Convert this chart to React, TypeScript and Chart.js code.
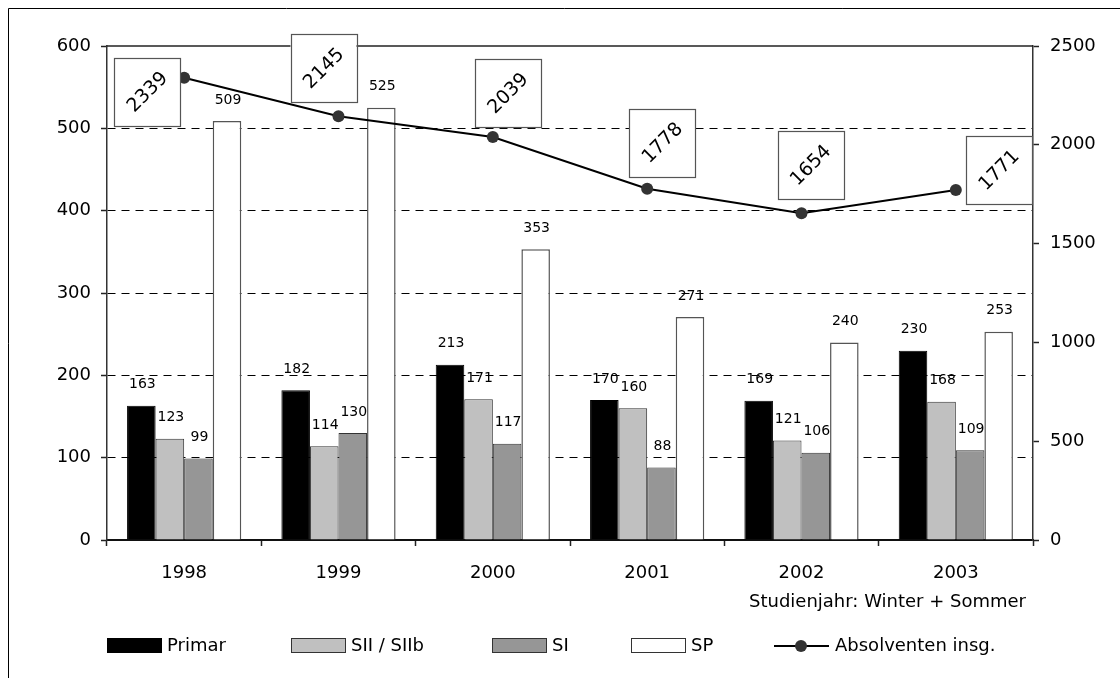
import React, { useEffect, useRef } from "react";
import { Chart, registerables } from "chart.js";

Chart.register(...registerables);

const years = ["1998", "1999", "2000", "2001", "2002", "2003"];
const primar = [163, 182, 213, 170, 169, 230];
const sii = [123, 114, 171, 160, 121, 168];
const si = [99, 130, 117, 88, 106, 109];
const sp = [509, 525, 353, 271, 240, 253];
const absolventen = [2339, 2145, 2039, 1778, 1654, 1771];
const seriesNames = ["Primar", "SII / SIIb", "SI", "SP", "Absolventen insg."];
const xTitle = "Studienjahr: Winter + Sommer";
const leftMax = 600;
const leftStep = 100;
const rightMax = 2500;
const rightStep = 500;

// annotation box placement relative to each line point (layout only)
const boxOffsets: [number, number][] = [
  [-37, 14],
  [-15, -48],
  [15, -44],
  [15, -46],
  [9, -48],
  [43, -20],
];

const FONT = '"DejaVu Sans", sans-serif';

const overlayPlugin = {
  id: "overlay",
  afterDatasetsDraw(chart: any) {
    const ctx = chart.ctx as CanvasRenderingContext2D;
    const area = chart.chartArea;
    ctx.save();
    // top border of plot area
    ctx.strokeStyle = "#222";
    ctx.lineWidth = 1.5;
    ctx.beginPath();
    ctx.moveTo(area.left, area.top);
    ctx.lineTo(area.right, area.top);
    ctx.stroke();

    // bar value labels
    ctx.fillStyle = "#000";
    ctx.font = `14px ${FONT}`;
    ctx.textAlign = "center";
    ctx.textBaseline = "middle";
    for (let d = 0; d < 4; d++) {
      const meta = chart.getDatasetMeta(d);
      const data = chart.data.datasets[d].data;
      meta.data.forEach((bar: any, i: number) => {
        ctx.fillText(String(data[i]), bar.x + 1, bar.y - 21);
      });
    }

    // line labels in boxes, rotated text
    const lmeta = chart.getDatasetMeta(4);
    lmeta.data.forEach((pt: any, i: number) => {
      const [dx, dy] = boxOffsets[i];
      const cx = pt.x + dx;
      const cy = pt.y + dy;
      const w = 66;
      const h = 68;
      ctx.fillStyle = "#fff";
      ctx.fillRect(cx - w / 2, cy - h / 2, w, h);
      ctx.strokeStyle = "#555";
      ctx.lineWidth = 1.2;
      ctx.strokeRect(Math.round(cx - w / 2) + 0.5, Math.round(cy - h / 2) + 0.5, w, h);
      ctx.save();
      ctx.translate(cx, cy);
      ctx.rotate(-Math.PI / 4);
      ctx.fillStyle = "#000";
      ctx.font = `19px ${FONT}`;
      ctx.textAlign = "center";
      ctx.textBaseline = "middle";
      ctx.fillText(String(absolventen[i]), 0, 1);
      ctx.restore();
    });
    ctx.restore();
  },
  afterDraw(chart: any) {
    const ctx = chart.ctx as CanvasRenderingContext2D;
    ctx.save();
    // outer frame (left + top)
    ctx.strokeStyle = "#000";
    ctx.lineWidth = 1;
    ctx.beginPath();
    ctx.moveTo(8.5, 678);
    ctx.lineTo(8.5, 8.5);
    ctx.lineTo(1120, 8.5);
    ctx.stroke();

    // x-axis title
    ctx.fillStyle = "#000";
    ctx.font = `18px ${FONT}`;
    ctx.textAlign = "right";
    ctx.textBaseline = "middle";
    ctx.fillText(xTitle, 1026, 602);

    // legend
    const ly = 646;
    const items = [
      { x: 107, fill: "#000", stroke: null as string | null },
      { x: 291, fill: "#c0c0c0", stroke: "#333" },
      { x: 492, fill: "#969696", stroke: "#333" },
      { x: 631, fill: "#fff", stroke: "#333" },
    ];
    ctx.textAlign = "left";
    items.forEach((it, i) => {
      ctx.fillStyle = it.fill;
      ctx.fillRect(it.x, ly - 8, 55, 15);
      if (it.stroke) {
        ctx.strokeStyle = it.stroke;
        ctx.lineWidth = 1;
        ctx.strokeRect(it.x + 0.5, ly - 8 + 0.5, 54, 14);
      }
      ctx.fillStyle = "#000";
      ctx.fillText(seriesNames[i], it.x + 60, ly);
    });
    // line legend
    ctx.strokeStyle = "#000";
    ctx.lineWidth = 2;
    ctx.beginPath();
    ctx.moveTo(774, ly);
    ctx.lineTo(829, ly);
    ctx.stroke();
    ctx.fillStyle = "#333";
    ctx.beginPath();
    ctx.arc(801, ly, 6, 0, Math.PI * 2);
    ctx.fill();
    ctx.fillStyle = "#000";
    ctx.fillText(seriesNames[4], 835, ly);
    ctx.restore();
  },
};

export default function App() {
  const ref = useRef<HTMLCanvasElement | null>(null);

  useEffect(() => {
    if (!ref.current) return;
    Chart.defaults.font.family = FONT;
    const chart = new Chart(ref.current, {
      type: "bar",
      data: {
        labels: years,
        datasets: [
          {
            label: seriesNames[0],
            data: primar,
            backgroundColor: "#000",
            borderColor: "#000",
            borderWidth: 1,
            yAxisID: "y",
            order: 1,
          },
          {
            label: seriesNames[1],
            data: sii,
            backgroundColor: "#c0c0c0",
            borderColor: "#333",
            borderWidth: 1,
            yAxisID: "y",
            order: 1,
          },
          {
            label: seriesNames[2],
            data: si,
            backgroundColor: "#969696",
            borderColor: "#333",
            borderWidth: 1,
            yAxisID: "y",
            order: 1,
          },
          {
            label: seriesNames[3],
            data: sp,
            backgroundColor: "#fff",
            borderColor: "#555",
            borderWidth: 1.5,
            yAxisID: "y",
            order: 1,
          },
          {
            type: "line",
            label: seriesNames[4],
            data: absolventen,
            borderColor: "#000",
            borderWidth: 2,
            backgroundColor: "#333",
            pointBackgroundColor: "#333",
            pointBorderColor: "#333",
            pointRadius: 6,
            pointBorderWidth: 0,
            tension: 0,
            yAxisID: "y1",
            order: 0,
          } as any,
        ],
      },
      options: {
        animation: false,
        responsive: false,
        maintainAspectRatio: false,
        devicePixelRatio: 1,
        events: [],
        layout: { padding: { top: 46, left: 0, right: 0, bottom: 0 } },
        datasets: {
          bar: { categoryPercentage: 0.74, barPercentage: 1 },
        },
        plugins: {
          legend: { display: false },
          tooltip: { enabled: false },
          title: { display: false },
        },
        scales: {
          x: {
            offset: true,
            grid: {
              offset: true,
              drawOnChartArea: false,
              drawTicks: true,
              tickLength: 6,
              tickColor: "#222",
              tickWidth: 1.5,
            },
            border: { display: true, color: "#111", width: 2 },
            ticks: {
              color: "#000",
              font: { size: 18, family: FONT },
              padding: 17,
              maxRotation: 0,
            },
            afterFit: (s: any) => {
              s.height = 138;
            },
          },
          y: {
            position: "left",
            min: 0,
            max: leftMax,
            ticks: {
              stepSize: leftStep,
              color: "#000",
              font: { size: 18, family: FONT },
              padding: 10,
              callback: (v: any) => String(v),
            },
            grid: {
              color: (c: any) =>
                c.tick && (c.tick.value === 0 || c.tick.value === leftMax)
                  ? "rgba(0,0,0,0)"
                  : "#000",
              lineWidth: 1,
              tickColor: "#222",
              tickLength: 6,
              tickWidth: 1.5,
              drawTicks: true,
            },
            border: { display: true, color: "#333", width: 1.5, dash: [8, 6] },
            afterFit: (s: any) => {
              s.width = 107;
            },
          },
          y1: {
            position: "right",
            min: 0,
            max: rightMax,
            ticks: {
              stepSize: rightStep,
              color: "#000",
              font: { size: 18, family: FONT },
              padding: 11,
              callback: (v: any) => String(v),
            },
            grid: {
              drawOnChartArea: false,
              drawTicks: true,
              tickLength: 6,
              tickColor: "#222",
              tickWidth: 1.5,
            },
            border: { display: true, color: "#333", width: 1.5 },
            afterFit: (s: any) => {
              s.width = 87;
            },
          },
        },
      },
      plugins: [overlayPlugin],
    });
    return () => chart.destroy();
  }, []);

  return (
    <div
      style={{
        position: "fixed",
        left: 0,
        top: 0,
        width: 1120,
        height: 678,
        background: "#fff",
      }}
    >
      <canvas ref={ref} width={1120} height={678} style={{ width: 1120, height: 678 }} />
    </div>
  );
}
